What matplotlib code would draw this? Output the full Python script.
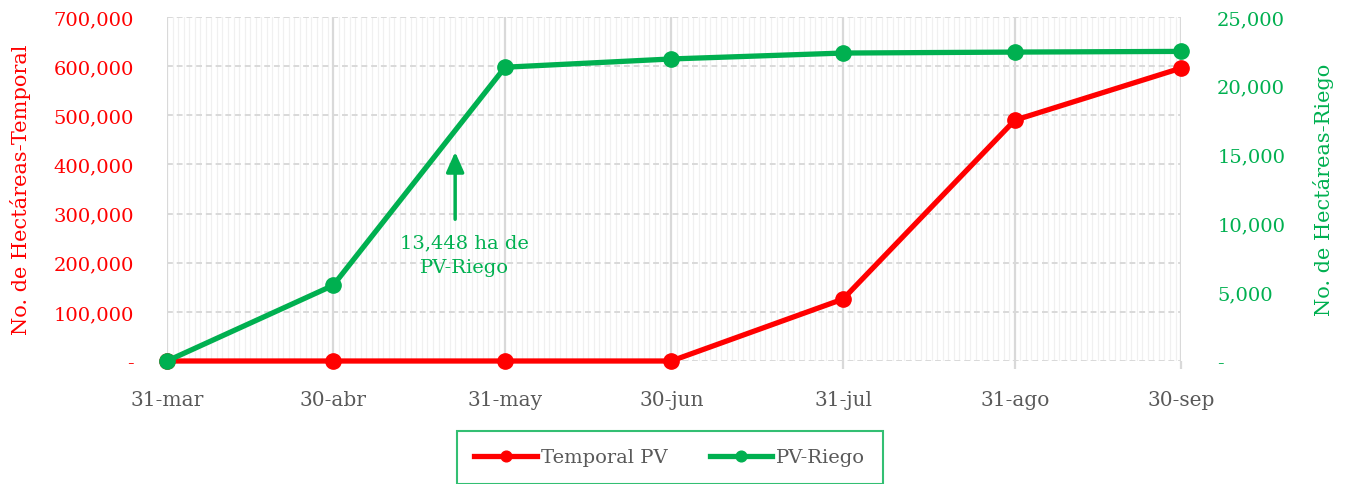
import matplotlib.pyplot as plt
import matplotlib.dates as mdates
import matplotlib.ticker as mticker
import numpy as np
import datetime as dt

# datos
fechas = ["2020-03-31", "2020-04-30", "2020-05-31", "2020-06-30",
          "2020-07-31", "2020-08-31", "2020-09-30"]
etiquetas_x = ["31-mar", "30-abr", "31-may", "30-jun", "31-jul", "31-ago", "30-sep"]
temporal_pv = [0, 0, 0, 0, 126000, 490000, 596000]
pv_riego = [0, 5500, 21350, 21950, 22380, 22450, 22500]

ROJO = "#FF0000"
VERDE = "#00B050"
GRIS = "#595959"

plt.rcParams["font.family"] = ["DejaVu Serif"]
plt.rcParams["font.size"] = 13.5

x = [dt.datetime.strptime(f, "%Y-%m-%d") for f in fechas]

fig = plt.figure(figsize=(13.49, 4.85), dpi=100)
ax1 = fig.add_axes([0.1238, 0.2536, 0.7517, 0.7093])
ax2 = ax1.twinx()

def miles(v, pos):
    if v == 0:
        return "-"
    return "{:,.0f}".format(v)

# rejilla
ax1.set_xlim(x[0], x[-1])
ax1.xaxis.set_major_locator(mticker.FixedLocator(mdates.date2num(x)))
ax1.xaxis.set_minor_locator(mdates.DayLocator())
ax1.set_xticklabels(etiquetas_x)
ax1.grid(which="minor", axis="x", color="#F0F0F0", linewidth=0.9)
ax1.grid(which="major", axis="x", color="#D9D9D9", linewidth=1.6)
ax1.grid(which="major", axis="y", color="#D9D9D9", linewidth=1.4, linestyle=(0, (3, 2)))
ax1.set_axisbelow(True)
ax1.tick_params(axis="x", which="major", length=6, color="#D9D9D9", width=1.6,
                pad=15, labelcolor=GRIS, labelsize=14.5)
ax1.tick_params(axis="x", which="minor", length=0)

ax1.set_ylim(0, 700000)
ax1.yaxis.set_major_locator(mticker.MultipleLocator(100000))
ax1.yaxis.set_major_formatter(mticker.FuncFormatter(miles))
ax1.tick_params(axis="y", length=0, pad=24, labelcolor=ROJO, labelsize=14)
ax1.set_ylabel("No. de Hectáreas-Temporal", color=ROJO, fontsize=15, labelpad=16)

ax2.set_ylim(0, 25000)
ax2.yaxis.set_major_locator(mticker.MultipleLocator(5000))
ax2.yaxis.set_major_formatter(mticker.FuncFormatter(miles))
ax2.tick_params(axis="y", length=0, pad=26, labelcolor=VERDE, labelsize=14)
ax2.set_ylabel("No. de Hectáreas-Riego", color=VERDE, fontsize=15, labelpad=20)

for ax in (ax1, ax2):
    for s in ax.spines.values():
        s.set_visible(False)

l1, = ax1.plot(x, temporal_pv, color=ROJO, linewidth=3.8, marker="o",
               markersize=11, clip_on=False, label="Temporal PV", zorder=3)
l2, = ax2.plot(x, pv_riego, color=VERDE, linewidth=3.8, marker="o",
               markersize=11, clip_on=False, label="PV-Riego", zorder=3)

# anotacion
ax2.annotate("", xy=(dt.datetime(2020, 5, 22), 15400),
             xytext=(dt.datetime(2020, 5, 22), 10100),
             arrowprops=dict(arrowstyle="-|>,head_width=0.4,head_length=0.9",
                             color=VERDE, lw=2.5))
ax2.text(dt.datetime(2020, 5, 23, 18), 7750, "13,448 ha de\nPV-Riego", color=VERDE,
         ha="center", va="center", fontsize=14, linespacing=1.45)

leg = fig.legend(handles=[l1, l2], loc="center", bbox_to_anchor=(0.4965, 0.055),
                 ncol=2, frameon=True, fancybox=False, fontsize=14,
                 handlelength=3.2, handletextpad=0.2, columnspacing=2.2,
                 borderpad=0.9, borderaxespad=0, markerscale=0.7)
leg.get_frame().set_edgecolor(VERDE)
leg.get_frame().set_linewidth(1.5)
for t in leg.get_texts():
    t.set_color(GRIS)

fig.savefig("out.png", dpi=100)
